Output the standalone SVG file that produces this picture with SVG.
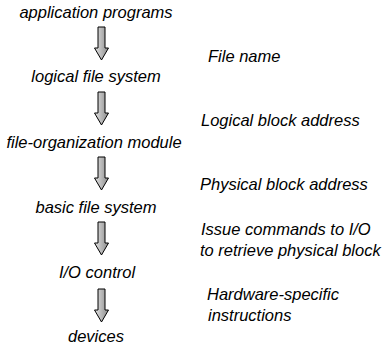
<svg xmlns="http://www.w3.org/2000/svg" width="383" height="345" viewBox="0 0 383 345">
  <style>
    .layer { font-family: "Liberation Sans", Arial, sans-serif; font-style: italic; font-size: 16.5px; fill: #000; text-anchor: middle; }
    .note { font-family: "Liberation Sans", Arial, sans-serif; font-style: italic; font-size: 16.5px; fill: #000; }
    .flow { fill: url(#shade); stroke: #000; stroke-width: 1; stroke-linejoin: miter; }
  </style>
  <defs>
    <linearGradient id="shade" x1="0" y1="0" x2="1" y2="0">
      <stop offset="0" stop-color="#e4e4e4"/>
      <stop offset="1" stop-color="#8c8c8c"/>
    </linearGradient>
    <!-- block arrow pointing down, origin at top centre of shaft -->
    <path id="down" d="M -3.5 0 H 3.5 V 21 H 7 L 0 33 L -7 21 H -3.5 Z"/>
  </defs>
  <rect width="383" height="345" fill="#fff"/>

  <g id="connectors">
    <use href="#down" class="flow" x="101.5" y="27"/>
    <use href="#down" class="flow" x="101.5" y="92"/>
    <use href="#down" class="flow" x="101.5" y="157"/>
    <use href="#down" class="flow" x="101.5" y="222"/>
    <use href="#down" class="flow" x="101.5" y="289"/>
  </g>

  <g id="application-programs"><text class="layer" x="96" y="18">application programs</text></g>
  <g id="logical-file-system"><text class="layer" x="96" y="82">logical file system</text></g>
  <g id="file-organization-module"><text class="layer" x="94" y="148">file-organization module</text></g>
  <g id="basic-file-system"><text class="layer" x="96" y="213">basic file system</text></g>
  <g id="io-control"><text class="layer" x="97" y="278">I/O control</text></g>
  <g id="devices"><text class="layer" x="96" y="342">devices</text></g>

  <g id="notes">
    <text class="note" x="208" y="62">File name</text>
    <text class="note" x="201" y="126">Logical block address</text>
    <text class="note" x="200" y="190">Physical block address</text>
    <text class="note" x="201" y="235">Issue commands to I/O</text>
    <text class="note" x="200" y="256">to retrieve physical block</text>
    <text class="note" x="207" y="300">Hardware-specific</text>
    <text class="note" x="208" y="321">instructions</text>
  </g>
</svg>
